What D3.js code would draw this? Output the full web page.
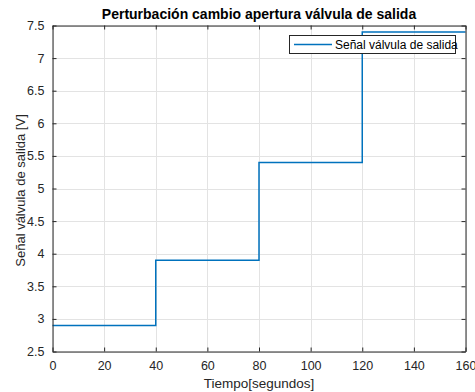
<!DOCTYPE html>
<html>
<head>
<meta charset="utf-8">
<script src="https://cdn.jsdelivr.net/npm/d3@7"></script>
<style>
  html, body { margin: 0; padding: 0; background: #fff; }
  svg { display: block; font-family: "Liberation Sans", Arial, Helvetica, sans-serif; }
</style>
</head>
<body>
<svg id="chart" width="475" height="392"></svg>
<script>
// Step signal: each level holds from its start time until the next one
const stepTimes = [0, 40, 80, 120, 160];
const stepLevels = [2.9, 3.9, 5.4, 7.4];
const xTicks = [0, 20, 40, 60, 80, 100, 120, 140, 160];
const yTicks = [2.5, 3, 3.5, 4, 4.5, 5, 5.5, 6, 6.5, 7, 7.5];
const seriesName = "Señal válvula de salida";

const svg = d3.select("#chart");
const m = { left: 52.5, right: 465.5, top: 25.5, bottom: 351.5 };
const axisColor = "#262626";

const x = d3.scaleLinear().domain([0, 160]).range([m.left, m.right]);
const y = d3.scaleLinear().domain([2.5, 7.5]).range([m.bottom, m.top]);

// Grid
const grid = svg.append("g").attr("stroke", "#e3e3e3").attr("stroke-width", 1);
xTicks.forEach(t => grid.append("line")
  .attr("x1", Math.round(x(t)) + 0.5).attr("x2", Math.round(x(t)) + 0.5)
  .attr("y1", m.top).attr("y2", m.bottom));
yTicks.forEach(t => grid.append("line")
  .attr("y1", Math.round(y(t)) + 0.5).attr("y2", Math.round(y(t)) + 0.5)
  .attr("x1", m.left).attr("x2", m.right));

// Step line
const pts = [];
stepLevels.forEach((v, i) => {
  pts.push([stepTimes[i], v]);
  pts.push([stepTimes[i + 1], v]);
});
svg.append("path")
  .datum(pts)
  .attr("fill", "none")
  .attr("stroke", "#0072BD")
  .attr("stroke-width", 1.5)
  .attr("d", d3.line().x(d => x(d[0])).y(d => y(d[1])));

// Axes with inward ticks on all four sides
const tl = 4;
const fmt = d3.format("");
function styleAxis(g) {
  g.selectAll("path, line").attr("stroke", axisColor);
  g.selectAll("text").attr("fill", axisColor).attr("font-size", 12.5)
    .attr("font-family", "Liberation Sans, Arial, sans-serif");
}
svg.append("g").attr("transform", `translate(0,${m.bottom})`)
  .call(d3.axisBottom(x).tickValues(xTicks).tickFormat(fmt).tickSizeInner(-tl).tickSizeOuter(0).tickPadding(10))
  .call(styleAxis);
svg.append("g").attr("transform", `translate(0,${m.top})`)
  .call(d3.axisTop(x).tickValues(xTicks).tickFormat("").tickSizeInner(-tl).tickSizeOuter(0))
  .call(styleAxis);
svg.append("g").attr("transform", `translate(${m.left},0)`)
  .call(d3.axisLeft(y).tickValues(yTicks).tickFormat(fmt).tickSizeInner(-tl).tickSizeOuter(0).tickPadding(8))
  .call(styleAxis);
svg.append("g").attr("transform", `translate(${m.right},0)`)
  .call(d3.axisRight(y).tickValues(yTicks).tickFormat("").tickSizeInner(-tl).tickSizeOuter(0))
  .call(styleAxis);
svg.selectAll(".domain").attr("stroke-width", 1);

// Title and axis labels
svg.append("text")
  .attr("x", (m.left + m.right) / 2).attr("y", 18.5)
  .attr("text-anchor", "middle").attr("font-size", 14).attr("font-weight", "bold")
  .attr("fill", "#000")
  .text("Perturbación cambio apertura válvula de salida");
svg.append("text")
  .attr("x", (m.left + m.right) / 2).attr("y", 388)
  .attr("text-anchor", "middle").attr("font-size", 13.5).attr("fill", axisColor)
  .text("Tiempo[segundos]");
svg.append("text")
  .attr("transform", `translate(25,${(m.top + m.bottom) / 2 + 2}) rotate(-90)`)
  .attr("text-anchor", "middle").attr("font-size", 13).attr("fill", axisColor)
  .text("Señal válvula de salida [V]");

// Legend
const lg = svg.append("g");
lg.append("rect")
  .attr("x", 289.5).attr("y", 35.5).attr("width", 166).attr("height", 18)
  .attr("fill", "#fff").attr("stroke", "#262626").attr("stroke-width", 1);
lg.append("line")
  .attr("x1", 294).attr("x2", 332).attr("y1", 44.5).attr("y2", 44.5)
  .attr("stroke", "#0072BD").attr("stroke-width", 1.5);
lg.append("text")
  .attr("x", 335).attr("y", 49)
  .attr("font-size", 12).attr("fill", "#000")
  .text(seriesName);
</script>
</body>
</html>
